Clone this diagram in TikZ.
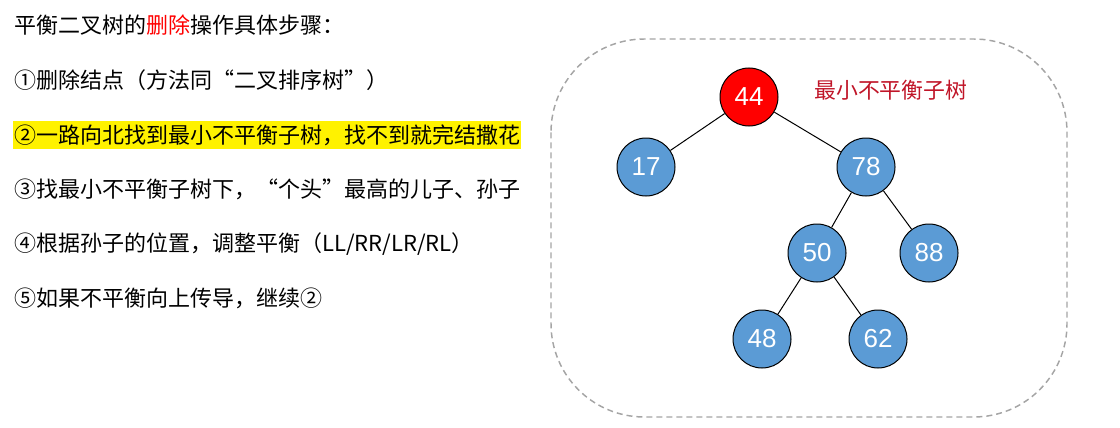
\documentclass[tikz,border=0pt]{standalone}
\usepackage{fontspec}
\setmainfont{Noto Sans CJK SC}
\newfontfamily\numfont{Liberation Sans}
\definecolor{nodeblue}{RGB}{91,155,213}
\definecolor{labelred}{RGB}{192,21,40}
\definecolor{boxgray}{RGB}{165,165,165}
\tikzset{
  treenode/.style={circle,draw=black,line width=0.75pt,fill=nodeblue,minimum size=43.5pt,inner sep=0pt,text=white,font=\numfont\fontsize{19.5}{19.5}\selectfont},
  steptext/.style={anchor=west,inner sep=0.75pt,font=\fontsize{16.5}{16.5}\selectfont},
  treeedge/.style={draw=black,line width=0.75pt}
}
\begin{document}
\begin{tikzpicture}[x=0.75pt,y=0.75pt,yscale=-1]
	\useasboundingbox (0,0) rectangle (1120,428);
	
	%Shape: Rounded Rect [id:box]
	\draw [color=boxgray,line width=1.1pt,dash pattern=on 4.5pt off 3pt,rounded corners=70pt] (551,39) rectangle (1067,417);
	
	% Text Node
	\node [steptext] (title) at (13,25) {平衡二叉树的\textcolor{red}{删除}操作具体步骤：};
	% Text Node
	\node [steptext] (stepa) at (13,80) {①删除结点（方法同“二叉排序树”）};
	% Text Node
	\node [steptext,fill=yellow,inner ysep=2.25pt] (stepb) at (13,135) {②一路向北找到最小不平衡子树，找不到就完结撒花};
	% Text Node
	\node [steptext] (stepc) at (13,189) {③找最小不平衡子树下，“个头”最高的儿子、孙子};
	% Text Node
	\node [steptext] (stepd) at (13,244) {④根据孙子的位置，调整平衡（LL/RR/LR/RL）};
	% Text Node
	\node [steptext] (stepe) at (13,298) {⑤如果不平衡向上传导，继续②};
	
	%Shape: Circle
	\node [treenode,fill=red] (n44) at (749,97) {44};
	\node [treenode] (n17) at (646,167) {17};
	\node [treenode] (n78) at (866,167) {78};
	\node [treenode] (n50) at (817,253) {50};
	\node [treenode] (n88) at (929,253) {88};
	\node [treenode] (n48) at (762,339) {48};
	\node [treenode] (n62) at (878,339) {62};
	
	%Straight Lines
	\draw [treeedge] (n44) -- (n17);
	\draw [treeedge] (n44) -- (n78);
	\draw [treeedge] (n78) -- (n50);
	\draw [treeedge] (n78) -- (n88);
	\draw [treeedge] (n50) -- (n48);
	\draw [treeedge] (n50) -- (n62);
	
	% Text Node
	\node [anchor=west,inner sep=0.75pt,text=labelred,font=\fontsize{16.4}{16.4}\selectfont] (minlabel) at (813,90) {最小不平衡子树};
	
\end{tikzpicture}
\end{document}
